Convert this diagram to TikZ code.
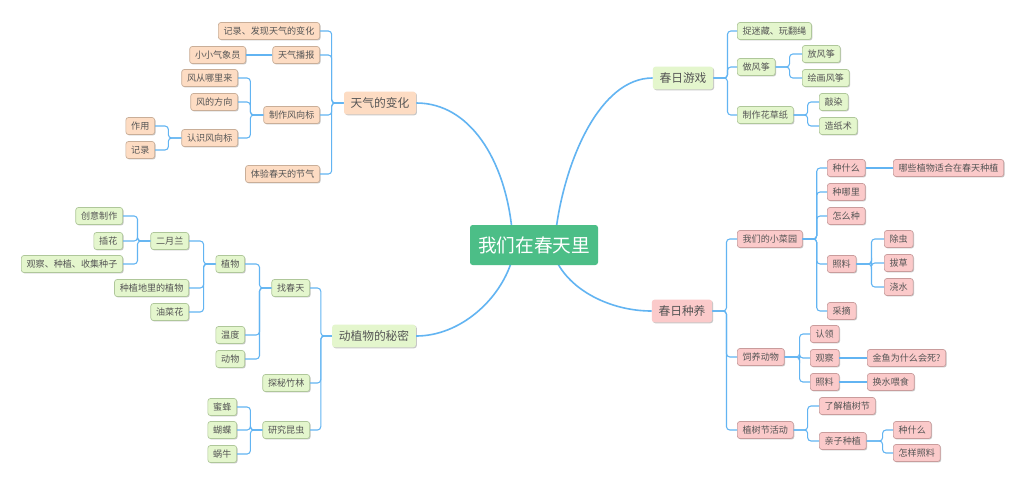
\documentclass[tikz,border=0pt]{standalone}
\usepackage{fontspec}
\newfontfamily\cjk{Noto Sans CJK SC}
\usetikzlibrary{shadows}
\definecolor{conncol}{HTML}{62B4F2}
\definecolor{txt}{HTML}{555555}
\definecolor{peachf}{HTML}{FDDCC3}\definecolor{peachd}{HTML}{C9AE98}
\definecolor{greenf}{HTML}{E4F6CD}\definecolor{greend}{HTML}{AFC79A}
\definecolor{pinkf}{HTML}{FBCACA}\definecolor{pinkd}{HTML}{C99C9C}
\definecolor{centf}{HTML}{4CBE87}
\tikzset{
  box/.style={rounded corners=2pt, draw, line width=0.5pt, font=\cjk\fontsize{6.8}{8}\selectfont, text=txt,
    inner xsep=4pt, inner ysep=0pt, minimum height=12.8pt,
    drop shadow={shadow xshift=0.7pt, shadow yshift=-0.7pt, fill=black!22, opacity=1}},
  pe/.style={box, fill=peachf, draw=peachd},
  gr/.style={box, fill=greenf, draw=greend},
  pk/.style={box, fill=pinkf, draw=pinkd},
  big/.style={font=\cjk\fontsize{8.8}{10}\selectfont, minimum height=17pt, inner xsep=5pt, draw=none},
  conn/.style={draw=conncol, line width=0.8pt, rounded corners=2.5pt},
  main/.style={draw=conncol, line width=1.2pt},
  centre/.style={rounded corners=2pt, fill=centf, text=white, font=\cjk\fontsize{14}{16}\selectfont, minimum width=96pt, minimum height=30pt},
}
\newcommand\lb[3]{\draw[conn] (#1.west) -- ++(-#2,0) |- (#3.east);}
\newcommand\rb[3]{\draw[conn] (#1.east) -- ++(#2,0) |- (#3.west);}
\begin{document}
\begin{tikzpicture}[x=0.75pt,y=-0.75pt]
\useasboundingbox[fill=white] (0,0) rectangle (1024,490);
% weather
\node[pe,big] (w) at (380,103) {天气的变化};
\node[pe,anchor=east] (w1) at (320,31) {记录、发现天气的变化};
\node[pe,anchor=east] (w2) at (320,55) {天气播报};
\node[pe,anchor=east] (w21) at (246,55) {小小气象员};
\node[pe,anchor=east] (w3) at (320,115) {制作风向标};
\node[pe,anchor=east] (w31) at (238,78) {风从哪里来};
\node[pe,anchor=east] (w32) at (238,102) {风的方向};
\node[pe,anchor=east] (w33) at (238,138) {认识风向标};
\node[pe,anchor=east] (w331) at (155,126) {作用};
\node[pe,anchor=east] (w332) at (155,150) {记录};
\node[pe,anchor=east] (w4) at (320,174) {体验春天的节气};
\foreach \n in {w1,w2,w3,w4} {\lb{w}{12}{\n}}
\draw[conn] (w2.west) -- (w21.east);
\foreach \n in {w31,w32,w33} {\lb{w3}{13}{\n}}
\foreach \n in {w331,w332} {\lb{w33}{13}{\n}}
% plants & animals
\node[gr,big] (p) at (374,336) {动植物的秘密};
\node[gr,anchor=east] (p1) at (310,288) {找春天};
\node[gr,anchor=east] (p2) at (310,383) {探秘竹林};
\node[gr,anchor=east] (p3) at (310,430) {研究昆虫};
\node[gr,anchor=east] (p11) at (245,264) {植物};
\node[gr,anchor=east] (p12) at (245,335) {温度};
\node[gr,anchor=east] (p13) at (245,359) {动物};
\node[gr,anchor=east] (p111) at (189,241) {二月兰};
\node[gr,anchor=east] (p112) at (189,288) {种植地里的植物};
\node[gr,anchor=east] (p113) at (189,312) {油菜花};
\node[gr,anchor=east] (p1111) at (123,216) {创意制作};
\node[gr,anchor=east] (p1112) at (123,241) {插花};
\node[gr,anchor=east] (p1113) at (123,264) {观察、种植、收集种子};
\node[gr,anchor=east] (p31) at (237,407) {蜜蜂};
\node[gr,anchor=east] (p32) at (237,430) {蝴蝶};
\node[gr,anchor=east] (p33) at (237,454) {蜗牛};
\foreach \n in {p1,p2,p3} {\lb{p}{11}{\n}}
\foreach \n in {p11,p12,p13} {\lb{p1}{12}{\n}}
\foreach \n in {p111,p112,p113} {\lb{p11}{12}{\n}}
\foreach \n in {p1111,p1112,p1113} {\lb{p111}{13}{\n}}
\foreach \n in {p31,p32,p33} {\lb{p3}{12}{\n}}
% games
\node[gr,big] (g) at (683,78) {春日游戏};
\node[gr,anchor=west] (g1) at (737,31) {捉迷藏、玩翻绳};
\node[gr,anchor=west] (g2) at (737,67) {做风筝};
\node[gr,anchor=west] (g3) at (737,115) {制作花草纸};
\node[gr,anchor=west] (g21) at (802,54) {放风筝};
\node[gr,anchor=west] (g22) at (802,78) {绘画风筝};
\node[gr,anchor=west] (g31) at (819,102) {敲染};
\node[gr,anchor=west] (g32) at (819,126) {造纸术};
\foreach \n in {g1,g2,g3} {\rb{g}{14}{\n}}
\foreach \n in {g21,g22} {\rb{g2}{14}{\n}}
\foreach \n in {g31,g32} {\rb{g3}{14}{\n}}
% growing
\node[pk,big] (s) at (682,311) {春日种养};
\node[pk,anchor=west] (s1) at (737,239) {我们的小菜园};
\node[pk,anchor=west] (s2) at (737,357) {饲养动物};
\node[pk,anchor=west] (s3) at (737,430) {植树节活动};
\node[pk,anchor=west] (s11) at (827,168) {种什么};
\node[pk,anchor=west] (s12) at (827,192) {种哪里};
\node[pk,anchor=west] (s13) at (827,216) {怎么种};
\node[pk,anchor=west] (s14) at (827,264) {照料};
\node[pk,anchor=west] (s15) at (827,311) {采摘};
\node[pk,anchor=west] (s111) at (893,168) {哪些植物适合在春天种植};
\node[pk,anchor=west] (s141) at (884,239) {除虫};
\node[pk,anchor=west] (s142) at (884,263) {拔草};
\node[pk,anchor=west] (s143) at (884,287) {浇水};
\node[pk,anchor=west] (s21) at (810,334) {认领};
\node[pk,anchor=west] (s22) at (810,358) {观察};
\node[pk,anchor=west] (s23) at (810,382) {照料};
\node[pk,anchor=west] (s221) at (867,358) {金鱼为什么会死?};
\node[pk,anchor=west] (s231) at (867,382) {换水喂食};
\node[pk,anchor=west] (s31) at (819,406) {了解植树节};
\node[pk,anchor=west] (s32) at (819,441) {亲子种植};
\node[pk,anchor=west] (s321) at (893,430) {种什么};
\node[pk,anchor=west] (s322) at (893,453) {怎样照料};
\foreach \n in {s1,s2,s3} {\rb{s}{14}{\n}}
\foreach \n in {s11,s12,s13,s14,s15} {\rb{s1}{14}{\n}}
\foreach \n in {s141,s142,s143} {\rb{s14}{15}{\n}}
\foreach \n in {s21,s22,s23} {\rb{s2}{15}{\n}}
\foreach \n in {s31,s32} {\rb{s3}{14}{\n}}
\foreach \n in {s321,s322} {\rb{s32}{16}{\n}}
\draw[conn] (s11.east) -- (s111.west);
\draw[conn] (s22.east) -- (s221.west);
\draw[conn] (s23.east) -- (s231.west);
% main curves
\coordinate (ctl) at (512,230); \coordinate (cbl) at (512,260);
\coordinate (ctr) at (556,230); \coordinate (cbr) at (556,260);
\draw[main] (w.east) .. controls (470,103) and (505,160) .. (ctl);
\draw[main] (p.east) .. controls (460,336) and (500,300) .. (cbl);
\draw[main] (g.west) .. controls (600,78) and (565,160) .. (ctr);
\draw[main] (s.west) .. controls (610,311) and (570,290) .. (cbr);
\node[centre] (c) at (534,245) {我们在春天里};
\end{tikzpicture}
\end{document}
